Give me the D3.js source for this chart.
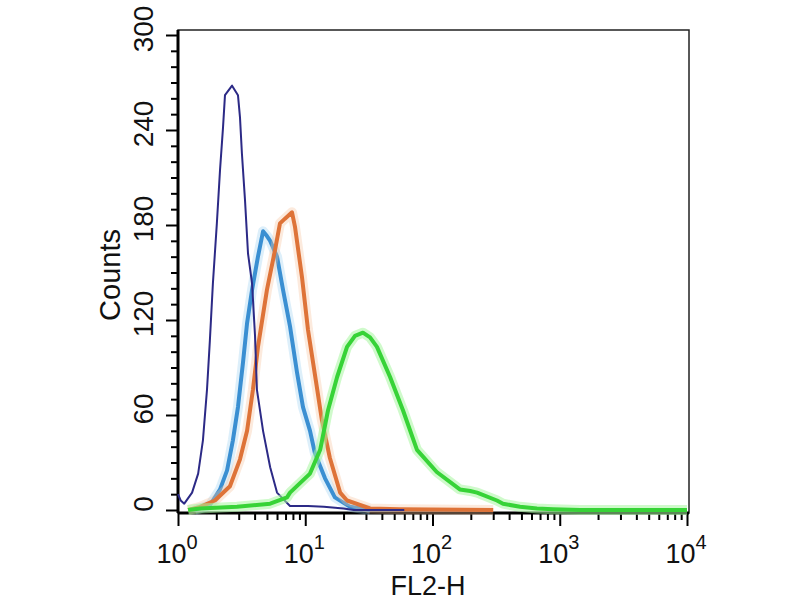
<!DOCTYPE html>
<html lang="en">
<head>
<meta charset="UTF-8">
<title>FL2-H histogram</title>
<script src="https://d3js.org/d3.v7.min.js"></script>
<style>
  body { margin: 0; background: #fff; }
  svg { display: block; font-family: "Liberation Sans", Arial, Helvetica, sans-serif; }
</style>
</head>
<body>
<svg id="chart" width="800" height="600"></svg>
<script>
// channel (FL2-H) , counts
var isotype = [[1.0,10],[1.05,6],[1.12,4],[1.29,11],[1.44,23],[1.57,44],[1.69,76],[1.78,107],[1.88,143],
  [2.02,181],[2.14,215],[2.26,242],[2.34,262],[2.66,268],[2.96,262],[3.07,248],[3.18,225],[3.36,196],
  [3.55,162],[3.82,143],[4.03,110],[4.17,76],[4.66,50],[5.30,27],[6.00,11],[7.59,2.5],[10.5,2.5],
  [14,2],[20,1],[24,0],[60,0]];
var blank = [[1.36,0],[1.78,3],[2.14,13],[2.43,25],[2.70,44],[2.96,65],[3.24,93],[3.49,118],[3.82,139],
  [4.25,160],[4.66,176],[5.0,173],[5.30,170],[6.00,160],[6.69,139],[7.59,116],[8.61,87],[9.60,65],
  [10.9,50],[11.9,36],[14.3,20],[17.1,8],[22.5,2],[32.3,0]];
var secondary = [[1.2,0],[1.49,2],[1.95,6],[2.56,15],[3.07,32],[3.49,50],[3.88,76],[4.25,103],[5.00,139],
  [5.78,164],[6.33,181],[6.93,184],[7.87,188],[8.30,179],[9.43,147],[10.5,114],[12.1,82],[13.5,57],
  [15.6,33],[18.8,11],[21.3,6],[32.3,1],[55,0.5],[300,0]];
var stained = [[1.2,0],[1.49,1],[2.91,2],[5.30,4],[7.19,8],[7.59,11],[10.9,23],[13.1,38],[15.1,63],
  [17.8,84],[21.3,103],[24.6,110],[28.4,112],[32.3,109],[36.6,103],[46.4,84],[58.6,63],[75.5,38],
  [108,24],[164,13],[198,12],[224,11],[321,6],[358,4],[487,2],[662,1],[885,0.5],[1443,0],[10000,0]];

var yMajor = [0, 60, 120, 180, 240, 300];
var xMajor = [1, 10, 100, 1000, 10000];

var svg = d3.select("#chart");
var fLeft = 178, fRight = 689, fTop = 30, fBottom = 513;

var x = d3.scaleLog().domain([1, 10000]).range([178, 687]);
var y = d3.scaleLinear().domain([0, 300]).range([510, 35]);

// minor y ticks every 10
var yMinor = d3.range(0, 301, 10).filter(function(v){ return v % 60 != 0; });
var xMinor = [];
for (var d = 1; d < 10000; d *= 10) {
  for (var k = 2; k < 10; k++) xMinor.push(d * k);
}

function styleAxis(g) {
  g.select(".domain").remove();
  g.selectAll("line").attr("stroke", "#000").attr("stroke-width", 2);
  g.selectAll("text").remove();
}

svg.append("g").attr("transform", "translate(" + fLeft + ",0)")
  .call(d3.axisLeft(y).tickValues(yMinor).tickSize(7)).call(styleAxis);
svg.append("g").attr("transform", "translate(" + fLeft + ",0)")
  .call(d3.axisLeft(y).tickValues(yMajor).tickSize(12)).call(styleAxis);
svg.append("g").attr("transform", "translate(0," + fBottom + ")")
  .call(d3.axisBottom(x).tickValues(xMinor).tickSize(7)).call(styleAxis);
svg.append("g").attr("transform", "translate(0," + fBottom + ")")
  .call(d3.axisBottom(x).tickValues(xMajor).tickSize(13)).call(styleAxis);

// frame
svg.append("rect")
  .attr("x", fLeft).attr("y", fTop)
  .attr("width", fRight - fLeft).attr("height", fBottom - fTop)
  .attr("fill", "none").attr("stroke", "#222").attr("stroke-width", 1.5);
svg.append("line").attr("x1", fLeft).attr("x2", fLeft).attr("y1", fTop).attr("y2", fBottom)
  .attr("stroke", "#000").attr("stroke-width", 3);
svg.append("line").attr("x1", fLeft).attr("x2", fRight).attr("y1", fBottom).attr("y2", fBottom)
  .attr("stroke", "#000").attr("stroke-width", 3);

// y labels (rotated)
svg.selectAll(".ylab").data(yMajor).enter().append("text")
  .attr("class", "ylab")
  .attr("transform", function(v){ return "translate(153," + (y(v) - 6) + ") rotate(-90)"; })
  .attr("text-anchor", "middle")
  .attr("font-size", 28)
  .attr("fill", "#111")
  .text(function(v){ return v; });

// x labels 10^n
var xl = svg.selectAll(".xlab").data(xMajor).enter().append("text")
  .attr("class", "xlab")
  .attr("x", function(v){ return x(v) - 1; })
  .attr("y", 563)
  .attr("text-anchor", "middle")
  .attr("font-size", 27)
  .attr("fill", "#111");
xl.append("tspan").text("10");
xl.append("tspan").attr("font-size", 20).attr("dy", -14)
  .text(function(v){ return Math.round(Math.log10(v)); });

svg.append("text").attr("x", 428).attr("y", 595).attr("text-anchor", "middle")
  .attr("font-size", 27).attr("fill", "#111").text("FL2-H");
svg.append("text").attr("transform", "translate(120,275) rotate(-90)")
  .attr("text-anchor", "middle").attr("font-size", 29).attr("fill", "#111").text("Counts");

// histograms
var line = d3.line()
  .x(function(d){ return x(d[0]); })
  .y(function(d){ return y(d[1]); })
  .curve(d3.curveLinear);

var plot = svg.append("g");
function trace(data, color, width, glow, glowOpacity) {
  if (glow) {
    plot.append("path").datum(data).attr("d", line)
      .attr("fill", "none").attr("stroke", glow).attr("stroke-width", width + 6)
      .attr("stroke-opacity", glowOpacity).attr("stroke-linejoin", "round");
  }
  plot.append("path").datum(data).attr("d", line)
    .attr("fill", "none").attr("stroke", color).attr("stroke-width", width)
    .attr("stroke-linejoin", "round");
}

trace(blank, "#3a8fd2", 4, "#9fd0f2", 0.35);
trace(secondary, "#de7338", 4, "#f6c39f", 0.35);
trace(isotype, "#2c2a86", 2, null, 0);
trace(stained, "#37d337", 4, "#a8f5a0", 0.55);
</script>
</body>
</html>
